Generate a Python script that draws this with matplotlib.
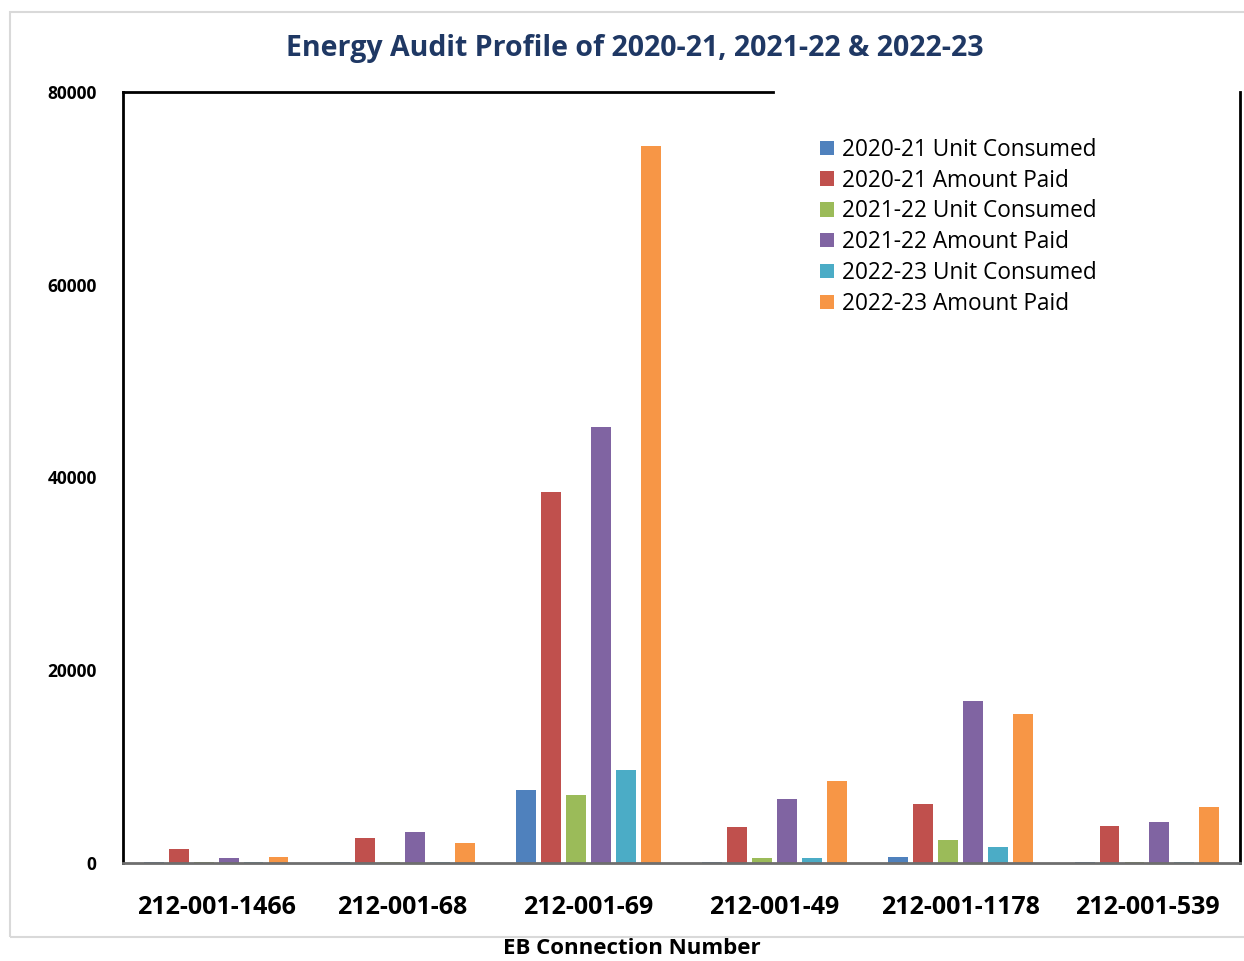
import numpy as np
import matplotlib
matplotlib.use("Agg")
import matplotlib.pyplot as plt

# connection numbers on the x axis
connections = ["212-001-1466", "212-001-68", "212-001-69",
               "212-001-49", "212-001-1178", "212-001-539"]

# one list per series
units_2021 = [60, 150, 7600, 150, 650, 50]
paid_2021 = [1450, 2600, 38500, 3750, 6100, 3850]
units_2122 = [60, 150, 7050, 500, 2400, 50]
paid_2122 = [500, 3200, 45200, 6650, 16800, 4250]
units_2223 = [60, 100, 9650, 550, 1700, 50]
paid_2223 = [650, 2100, 74400, 8500, 15450, 5800]

series_names = ["2020-21 Unit Consumed", "2020-21 Amount Paid",
                "2021-22 Unit Consumed", "2021-22 Amount Paid",
                "2022-23 Unit Consumed", "2022-23 Amount Paid"]
series = [units_2021, paid_2021, units_2122, paid_2122, units_2223, paid_2223]
colors = ["#4F81BD", "#C0504D", "#9BBB59", "#8064A2", "#4BACC6", "#F79646"]

plt.rcParams['font.family'] = ['Open Sans', 'DejaVu Sans']

fig = plt.figure(figsize=(12.44, 9.61), dpi=100)
ax = fig.add_axes([0.0989, 0.102, 0.8979, 0.8023])

# light grey outer frame of the chart area
frame = plt.Rectangle((0.008, 0.025), 1.1, 0.962, transform=fig.transFigure,
                      facecolor='none', edgecolor='#d9d9d9', linewidth=1.5)
fig.patches.append(frame)

x = np.arange(len(connections))
step = 0.134
width = 0.107
for i, (vals, name, col) in enumerate(zip(series, series_names, colors)):
    offset = (i - 2.5) * step
    ax.bar(x + offset, vals, width, color=col, label=name)

ax.set_xlim(-0.5, 5.5)
ax.set_ylim(0, 80000)
ax.set_yticks([0, 20000, 40000, 60000, 80000])
ax.set_xticks(x)
ax.set_xticklabels(connections, fontsize=18, fontweight='bold')
for lbl in ax.get_yticklabels():
    lbl.set_fontsize(12.5)
    lbl.set_fontweight('bold')
ax.tick_params(axis='x', length=0, pad=23)
ax.tick_params(axis='y', length=0, pad=19)

ax.spines['left'].set_color('black')
ax.spines['left'].set_linewidth(2)
ax.spines['top'].set_color('black')
ax.spines['top'].set_linewidth(2)
ax.spines['top'].set_bounds(-0.5, 2.99)
ax.spines['right'].set_color('black')
ax.spines['right'].set_linewidth(2)
ax.spines['bottom'].set_color('#6e6e6e')
ax.spines['bottom'].set_linewidth(2)

fig.text(0.508, 0.0125, "EB Connection Number", ha='center', va='center',
         fontsize=16, fontweight='bold')
fig.text(0.510, 0.950, "Energy Audit Profile of 2020-21, 2021-22 & 2022-23",
         ha='center', va='center', fontsize=20.5, fontweight='bold', color='#1F3864')

ax.legend(loc='upper left', bbox_to_anchor=(0.606, 0.967), frameon=False,
          fontsize=16.3, handlelength=0.6, handleheight=0.6, handletextpad=0.35,
          labelspacing=0.3)

fig.savefig("out.png", dpi=100)
